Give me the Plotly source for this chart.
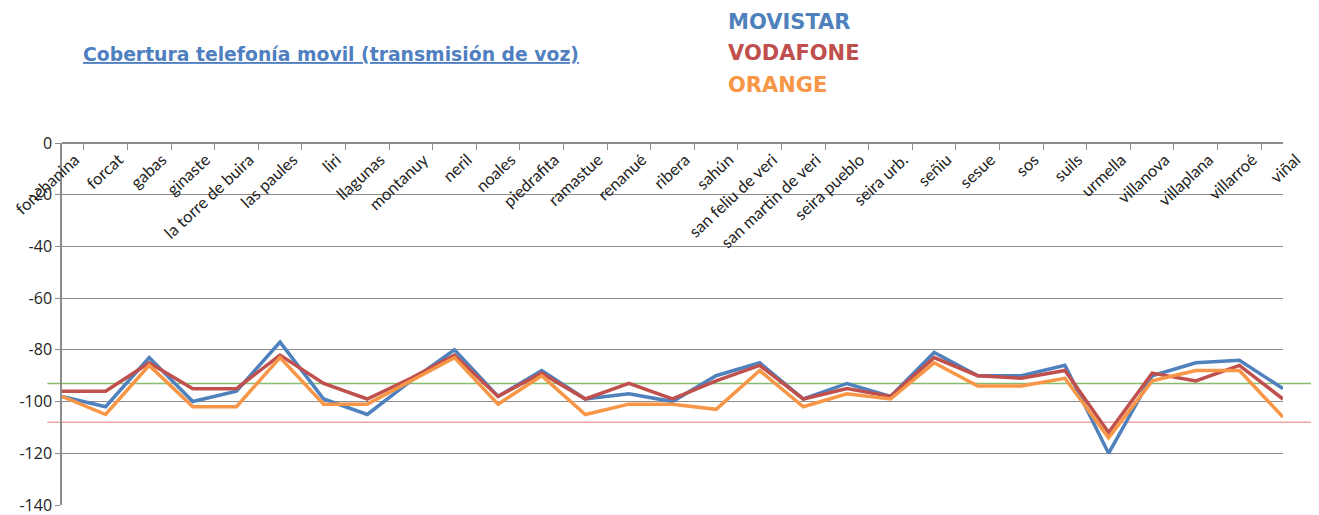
import plotly.graph_objects as go

pueblos = ["fonchanina", "forcat", "gabas", "ginaste", "la torre de buira", "las paules",
           "liri", "llagunas", "montanuy", "neril", "noales", "piedrafita", "ramastue",
           "renanué", "ribera", "sahún", "san feliu de veri", "san martin de veri",
           "seira pueblo", "seira urb.", "señiu", "sesue", "sos", "suils", "urmella",
           "villanova", "villaplana", "villarroé", "viñal"]

movistar = [-98, -102, -83, -100, -96, -77, -99, -105, -92, -80, -98, -88, -99, -97, -100,
            -90, -85, -99, -93, -98, -81, -90, -90, -86, -120, -90, -85, -84, -95]
vodafone = [-96, -96, -85, -95, -95, -82, -93, -99, -91, -82, -98, -89, -99, -93, -99,
            -92, -86, -99, -95, -98, -83, -90, -91, -88, -112, -89, -92, -86, -99]
orange = [-98, -105, -86, -102, -102, -83, -101, -101, -92, -83, -101, -90, -105, -101, -101,
          -103, -88, -102, -97, -99, -85, -94, -94, -91, -114, -92, -88, -88, -106]

operadoras = ["MOVISTAR", "VODAFONE", "ORANGE"]
colores = ["#4F81BD", "#C0504D", "#F79646"]
umbral_bueno = -93
umbral_malo = -108

y_ticks = [0, -20, -40, -60, -80, -100, -120, -140]
y_labels = ["0", "-20", "-40", "-60", "-80", "-100", "-120", "-140"]

fig = go.Figure()
for nombre, valores, color in zip(operadoras, [movistar, vodafone, orange], colores):
    fig.add_trace(go.Scatter(x=pueblos, y=valores, mode="lines", name=nombre,
                             line=dict(color=color, width=3.5)))

# lineas de referencia (salen un poco fuera del area)
fig.add_shape(type="line", xref="paper", yref="y", x0=-0.012, x1=1.023,
              y0=umbral_bueno, y1=umbral_bueno, line=dict(color="#86BD6E", width=1.5), layer="between")
fig.add_shape(type="line", xref="paper", yref="y", x0=-0.012, x1=1.023,
              y0=umbral_malo, y1=umbral_malo, line=dict(color="#F2A3A3", width=1.5), layer="between")

fig.add_annotation(text="<u>Cobertura telefonía movil (transmisión de voz)</u>", xref="paper", yref="paper",
                   x=(81 - 62) / 1221, y=1 + (143 - 55) / 362, xanchor="left", yanchor="middle",
                   showarrow=False, font=dict(family="DejaVu Sans", size=18.8, color="#4F7FC0", weight="bold"))
for i, (nombre, color) in enumerate(zip(operadoras, colores)):
    fig.add_annotation(text="<b>" + nombre + "</b>", xref="paper", yref="paper",
                       x=(726 - 62) / 1221, y=1 + (143 - 22 - 31.5 * i) / 362,
                       xanchor="left", yanchor="middle", showarrow=False,
                       font=dict(family="DejaVu Sans", size=21, color=color))

# la pagina tiene 8px de margen en el body
fig.update_layout(
    width=1311, height=507,
    margin=dict(l=54, r=36, t=135, b=10, autoexpand=False),
    paper_bgcolor="white", plot_bgcolor="white",
    showlegend=False,
    xaxis=dict(type="category", anchor="free", position=1, side="bottom",
               showline=True, linecolor="#8c8c8c", linewidth=1.5,
               ticks="outside", ticklen=6, tickcolor="#8c8c8c", tickson="boundaries",
               tickangle=-43, ticklabelshift=13, showgrid=False, automargin=False,
               tickfont=dict(family="Lato", size=16.5, color="#222")),
    yaxis=dict(range=[-140, 0], tickvals=y_ticks, ticktext=y_labels,
               showline=True, linecolor="#8c8c8c", linewidth=1.5,
               ticks="outside", ticklen=5, tickcolor="#8c8c8c", automargin=False,
               ticklabeloverflow="allow",
               showgrid=True, gridcolor="#8c8c8c", gridwidth=1.2, zeroline=False,
               tickfont=dict(family="Open Sans", size=16, color="#222")),
)

fig.write_html("out.html")
